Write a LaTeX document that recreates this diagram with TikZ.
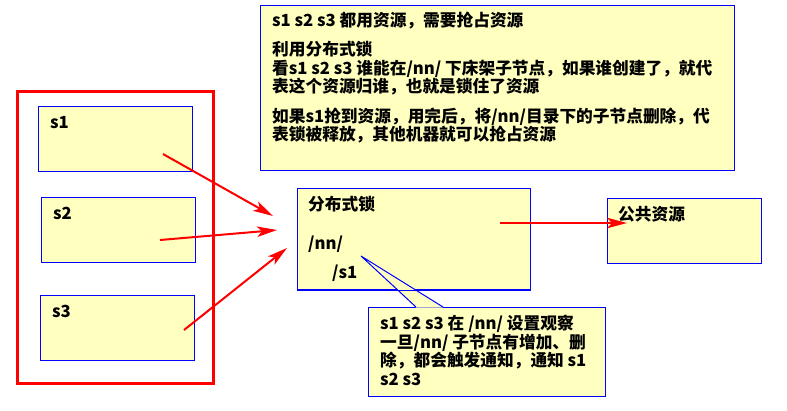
\documentclass[tikz,border=0pt]{standalone}
\usepackage{fontspec}
\setmainfont{Noto Sans CJK SC}
\usetikzlibrary{arrows.meta}
\definecolor{boxfill}{RGB}{255,255,192}
\definecolor{boxline}{RGB}{0,0,255}
\definecolor{arrred}{RGB}{255,0,0}
\tikzset{
  ybox/.style={draw=boxline, line width=1pt, fill=boxfill, anchor=north west, inner sep=0pt},
  txt/.style={anchor=base west, inner sep=0pt, font=\fontsize{16.7}{18}\selectfont\bfseries},
  redarrow/.style={draw=arrred, line width=2pt, -{Stealth[length=20pt,width=10.5pt,inset=5pt]}},
}
\begin{document}
\begin{tikzpicture}[x=1pt,y=-1pt]
\useasboundingbox (0,0) rectangle (787,410);
% outer red group
\node[draw=arrred, line width=2.5pt, anchor=north west, minimum width=196pt, minimum height=292pt, inner sep=0pt] (grp) at (16,90) {};
% s boxes
\node[ybox, minimum width=154pt, minimum height=65pt] (s1) at (38,106) {};
\node[ybox, minimum width=154pt, minimum height=65pt] (s2) at (41,197) {};
\node[ybox, minimum width=154pt, minimum height=65pt] (s3) at (40,295) {};
\node[txt] (s1t) at (50,128) {s1};
\node[txt] (s2t) at (53,219) {s2};
\node[txt] (s3t) at (52,317) {s3};
% top note
\node[ybox, minimum width=474pt, minimum height=165pt] (note) at (260,5) {};
\node[txt] (n1) at (272,26.5) {s1 s2 s3 都用资源，需要抢占资源};
\node[txt] (n2) at (272,55.5) {利用分布式锁};
\node[txt] (n3) at (272,74) {看s1 s2 s3 谁能在/nn/ 下床架子节点，如果谁创建了，就代};
\node[txt] (n4) at (272,92.5) {表这个资源归谁，也就是锁住了资源};
\node[txt] (n5) at (272,122) {如果s1抢到资源，用完后，将/nn/目录下的子节点删除，代};
\node[txt] (n6) at (272,140.5) {表锁被释放，其他机器就可以抢占资源};
% lock box
\node[ybox, minimum width=233pt, minimum height=101pt] (lock) at (297,188) {};
% resource box
\node[ybox, minimum width=154pt, minimum height=65pt] (res) at (607,198) {};
% callout
\coordinate (ctip) at (361,256);
\node[ybox, minimum width=237pt, minimum height=89pt] (call) at (368,307) {};
\fill[boxfill] (ctip) -- (416,307.5) -- (443,307.5) -- cycle;
\draw[boxline, line width=1pt] (lock.south west) -- (lock.south east);
\draw[boxline, line width=1pt] (416,307) -- (ctip) -- (443,307);
% texts
\node[txt] (lk1) at (308,210.5) {分布式锁};
\node[txt] (lk2) at (308,249) {/nn/};
\node[txt] (lk3) at (332,278) {/s1};
\node[txt] (rs1) at (618,220.5) {公共资源};
\node[txt] (c1) at (380,329.5) {s1 s2 s3 在 /nn/ 设置观察};
\node[txt] (c2) at (380,348) {一旦/nn/ 子节点有增加、删};
\node[txt] (c3) at (380,366.5) {除，都会触发通知，通知 s1};
\node[txt] (c4) at (380,385) {s2 s3};
% arrows
\coordinate (a1s) at (163,154); \coordinate (a1e) at (273,216);
\coordinate (a2s) at (160,240); \coordinate (a2e) at (277,230);
\coordinate (a3s) at (184,330); \coordinate (a3e) at (287,248);
\coordinate (a4s) at (500,223); \coordinate (a4e) at (627,223);
\draw[redarrow] (a1s) -- (a1e);
\draw[redarrow] (a2s) -- (a2e);
\draw[redarrow] (a3s) -- (a3e);
\draw[redarrow] (a4s) -- (a4e);
\end{tikzpicture}
\end{document}
